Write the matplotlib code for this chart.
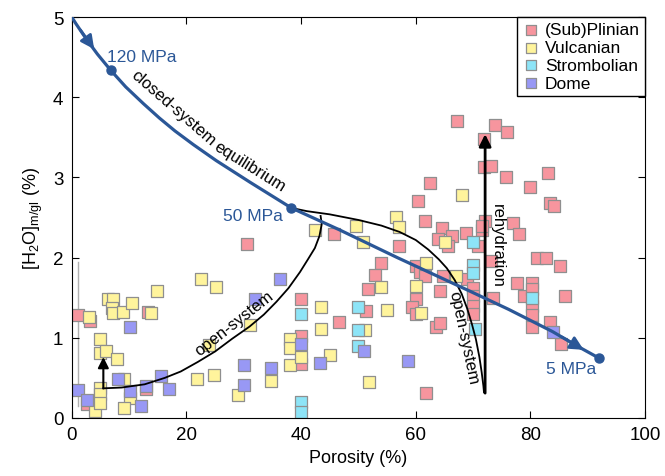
import matplotlib
matplotlib.use('Agg')
import matplotlib.pyplot as plt
import numpy as np

plt.rcParams['font.family'] = ['Liberation Sans', 'DejaVu Sans']
plt.rcParams['mathtext.default'] = 'regular'

# sample data: porosity (%), H2O (%)
plinian_x = [1.0, 3.1, 2.7, 13.3, 12.9, 30.5, 39.9, 39.9, 39.9, 45.8, 57.1, 60.4, 61.6, 54.0,
             52.9, 51.6, 60.0, 60.7, 61.6, 60.0, 59.3, 60.0, 51.3, 46.6, 61.8, 62.5, 64.5, 66.3,
             63.8, 65.7, 68.7, 70.9, 71.5, 72.1, 64.8, 68.9, 64.2, 70.0, 70.0, 70.0, 70.0, 63.6,
             64.2, 73.5, 67.2, 73.8, 76.0, 71.9, 71.9, 73.1, 75.7, 83.0, 79.9, 83.4, 84.2, 77.0,
             78.0, 81.1, 82.8, 85.1, 73.2, 77.6, 80.2, 78.8, 80.2, 80.2, 80.2, 80.2, 86.0, 83.4,
             85.3, 71.5]
plinian_y = [1.28, 1.21, 0.17, 1.32, 0.36, 2.17, 1.49, 1.02, 0.67, 2.30, 2.14, 2.71, 2.46, 1.93,
             1.78, 1.61, 1.90, 1.82, 1.77, 1.49, 1.39, 1.30, 1.34, 1.20, 0.31, 2.93, 2.37, 2.27,
             2.23, 2.15, 2.31, 2.15, 2.34, 2.46, 1.77, 1.73, 1.59, 1.62, 1.52, 1.40, 1.30, 1.13,
             1.19, 1.50, 3.71, 3.65, 3.57, 3.48, 3.13, 3.14, 3.01, 3.06, 2.88, 2.68, 2.64, 2.43,
             2.30, 1.99, 1.99, 1.90, 1.96, 1.69, 1.69, 1.52, 1.61, 1.40, 1.28, 1.13, 1.52, 1.20,
             0.92, 2.40]

vulcanian_x = [3.0, 6.3, 7.2, 7.0, 7.2, 9.0, 10.5, 14.9, 13.9, 4.9, 4.9, 5.9, 7.8, 4.1, 4.9,
               4.9, 4.9, 9.1, 10.1, 9.1, 21.8, 22.5, 25.1, 31.1, 23.9, 38.0, 38.0, 38.0, 39.9,
               34.8, 29.0, 24.8, 43.5, 43.4, 45.0, 42.4, 49.5, 50.8, 56.5, 57.1, 54.0, 61.8,
               60.0, 61.0, 55.0, 51.1, 51.9, 68.0, 65.1, 67.1]
vulcanian_y = [1.26, 1.49, 1.48, 1.37, 1.31, 1.32, 1.43, 1.59, 1.31, 0.985, 0.81, 0.83, 0.73, 0.09,
               0.38, 0.30, 0.19, 0.49, 0.25, 0.12, 0.49, 1.73, 1.64, 1.16, 0.91, 0.985, 0.87, 0.66,
               0.76, 0.46, 0.29, 0.54, 1.38, 1.11, 0.79, 2.35, 2.40, 2.19, 2.51, 2.38, 1.63, 1.93,
               1.65, 1.31, 1.35, 1.10, 0.45, 2.78, 2.19, 1.77]

strombolian_x = [39.9, 39.9, 39.9, 49.9, 49.9, 50.0, 69.9, 69.9, 69.9, 70.3, 80.2]
strombolian_y = [1.30, 0.20, 0.08, 1.39, 1.10, 0.90, 2.20, 1.91, 1.81, 1.11, 1.50]

dome_x = [10.1, 1.1, 2.7, 8.1, 10.1, 12.0, 12.9, 15.6, 16.9, 36.3, 31.9, 30.0, 34.8, 30.0,
          39.9, 43.3, 51.0, 58.7, 83.9]
dome_y = [1.13, 0.35, 0.23, 0.49, 0.34, 0.15, 0.40, 0.53, 0.36, 1.73, 1.48, 0.66, 0.62, 0.41,
          0.92, 0.69, 0.84, 0.71, 1.07]

# closed-system equilibrium degassing path
closed_x = [0, 0.7, 2.5, 4.45, 6.75, 9.4, 12.5, 15.3, 18.0, 21.2, 25.2, 31.1, 38.3, 46.6,
            56.8, 69.2, 76.2, 83.8, 88.6, 91.9]
closed_y = [5.0, 4.92, 4.73, 4.54, 4.34, 4.13, 3.92, 3.74, 3.58, 3.41, 3.21, 2.94, 2.62, 2.35,
            2.00, 1.59, 1.355, 1.08, 0.88, 0.75]
press_x = [6.75, 38.3, 91.9]
press_y = [4.34, 2.62, 0.75]
press_labels = ['120 MPa', '50 MPa', '5 MPa']

# open-system paths (black curves)
open_left_x = [5.5, 8.7, 12.7, 16.2, 19.0, 22.0, 25.0, 28.0, 31.0, 33.5, 35.7, 37.8, 39.8,
               41.2, 42.4, 43.2, 43.6, 43.4]
open_left_y = [0.37, 0.38, 0.42, 0.50, 0.58, 0.70, 0.83, 0.99, 1.14, 1.29, 1.45, 1.62, 1.82,
               1.98, 2.12, 2.27, 2.42, 2.52]
open_right_x = [38.3, 41.0, 45.0, 50.0, 54.0, 57.2, 60.0, 62.2, 64.0, 65.4, 66.8, 68.0, 69.0,
                69.8, 70.5, 71.1, 71.5, 71.8, 71.9]
open_right_y = [2.62, 2.58, 2.54, 2.47, 2.40, 2.32, 2.22, 2.10, 1.98, 1.87, 1.72, 1.55, 1.36,
                1.17, 0.98, 0.76, 0.57, 0.40, 0.32]

blue = '#2b5797'
edge = '#8f8f8f'

fig = plt.figure(figsize=(6.65, 4.77), dpi=100)
ax = fig.add_axes([0.108, 0.1216, 0.862, 0.8404])

# gray error bar near the y axis
ax.plot([1.0, 1.0], [0.15, 1.95], color='#b0b0b0', lw=1.0, zorder=1)

ms = 85
ax.scatter(plinian_x, plinian_y, s=ms, marker='s', color='#f7959e', edgecolors=edge,
           linewidths=0.9, label='(Sub)Plinian', zorder=2)
ax.scatter(vulcanian_x, vulcanian_y, s=ms, marker='s', color='#fff49c', edgecolors=edge,
           linewidths=0.9, label='Vulcanian', zorder=2)
ax.scatter(strombolian_x, strombolian_y, s=ms, marker='s', color='#8de4f7', edgecolors=edge,
           linewidths=0.9, label='Strombolian', zorder=2)
ax.scatter(dome_x, dome_y, s=ms, marker='s', color='#9898f5', edgecolors=edge,
           linewidths=0.9, label='Dome', zorder=2)

# open-system paths
ax.plot(open_left_x, open_left_y, color='k', lw=1.3, zorder=3)
ax.plot(open_right_x, open_right_y, color='k', lw=1.3, zorder=3)
ax.annotate('', xy=(5.5, 0.76), xytext=(5.5, 0.37),
            arrowprops=dict(arrowstyle='-|>', color='k', lw=1.5, mutation_scale=16,
                            shrinkA=0, shrinkB=0), zorder=4)

# rehydration arrow
ax.annotate('', xy=(72.1, 3.54), xytext=(72.1, 0.31),
            arrowprops=dict(arrowstyle='-|>', color='k', lw=2.0, mutation_scale=18,
                            shrinkA=0, shrinkB=0), zorder=4)

# closed-system curve
ax.plot(closed_x, closed_y, color=blue, lw=2.3, zorder=5)
ax.plot(press_x, press_y, 'o', color=blue, ms=6.5, zorder=6)
ax.annotate('', xy=(3.9, 4.60), xytext=(1.5, 4.84),
            arrowprops=dict(arrowstyle='-|>', color=blue, lw=2.0, mutation_scale=20,
                            shrinkA=0, shrinkB=0), zorder=6)
ax.annotate('', xy=(89.3, 0.85), xytext=(85.5, 1.01),
            arrowprops=dict(arrowstyle='-|>', color=blue, lw=2.0, mutation_scale=20,
                            shrinkA=0, shrinkB=0), zorder=6)

ax.text(6.1, 4.51, press_labels[0], color=blue, fontsize=12.5, ha='left', va='center')
ax.text(36.9, 2.53, press_labels[1], color=blue, fontsize=12.5, ha='right', va='center')
ax.text(87.1, 0.62, press_labels[2], color=blue, fontsize=12.5, ha='center', va='center')

ax.text(17.7, 3.88, 'closed-system', fontsize=12, rotation=-41, ha='center', va='center')
ax.text(31.0, 3.14, 'equilibrium', fontsize=12, rotation=-32, ha='center', va='center')
ax.text(28.4, 1.19, 'open-system', fontsize=12, rotation=38, ha='center', va='center')
ax.text(68.3, 1.01, 'open-system', fontsize=12, rotation=-78, ha='center', va='center')
ax.text(74.3, 2.16, 'rehydration', fontsize=12, rotation=-90, ha='center', va='center')

ax.set_xlim(0, 100)
ax.set_ylim(0, 5)
ax.set_xticks([0, 20, 40, 60, 80, 100])
ax.set_yticks([0, 1, 2, 3, 4, 5])
ax.tick_params(direction='in', top=True, right=True, length=5, labelsize=13.5, pad=6)
ax.set_xlabel('Porosity (%)', fontsize=13, labelpad=4)
ax.set_ylabel('[H$_2$O]$_{m/gl}$ (%)', fontsize=13, labelpad=6)

leg = ax.legend(loc='upper right', borderaxespad=0, fontsize=12.5, fancybox=False,
                edgecolor='k', framealpha=1, handletextpad=0.3, labelspacing=0.15,
                borderpad=0.3, handlelength=1.0, markerscale=0.85)
leg.get_frame().set_linewidth(1.0)

fig.savefig('out.png', dpi=100)
